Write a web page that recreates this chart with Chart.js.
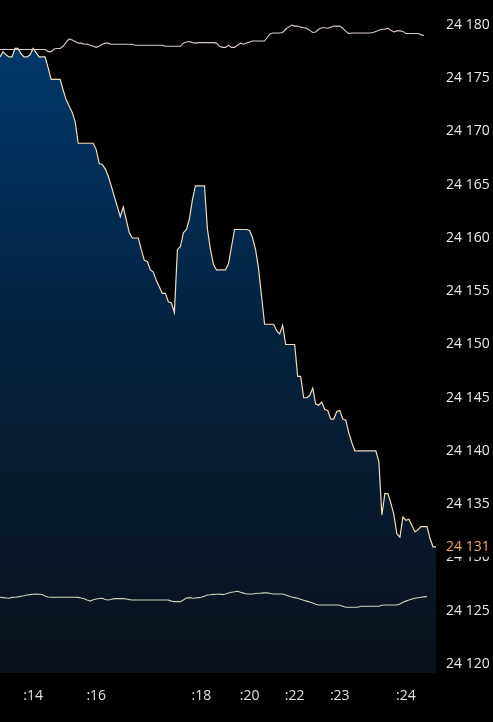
<!DOCTYPE html>
<html>
<head>
<meta charset="utf-8">
<script src="https://cdn.jsdelivr.net/npm/chart.js@4.4.1/dist/chart.umd.min.js"></script>
<style>
  html, body { margin: 0; padding: 0; background: #000; }
  #wrap { width: 493px; height: 722px; }
</style>
</head>
<body>
<div id="wrap"><canvas id="priceChart"></canvas></div>
<script>
// price ticks, one value per point
const price = [
  24177.0, 24177.5, 24177.2, 24177.0, 24177.0, 24177.8, 24177.8, 24177.3, 24177.0, 24177.0,
  24177.2, 24177.8, 24177.4, 24177.0, 24177.0, 24177.0, 24176.0, 24174.9, 24174.9, 24174.9,
  24174.9, 24173.9, 24173.0, 24172.4, 24171.8, 24170.9, 24168.9, 24168.9, 24168.9, 24168.9,
  24168.9, 24168.9, 24168.3, 24167.0, 24166.9, 24166.5, 24165.8, 24164.9, 24163.9, 24163.0,
  24162.0, 24162.9, 24161.7, 24160.5, 24160.0, 24160.0, 24160.0, 24158.9, 24157.9, 24157.8,
  24157.0, 24156.8, 24156.0, 24155.4, 24154.8, 24154.8, 24154.0, 24153.9, 24153.0, 24158.9,
  24159.2, 24160.5, 24160.8, 24161.8, 24163.6, 24164.9, 24164.9, 24164.9, 24164.9, 24160.8,
  24158.9, 24157.5, 24157.0, 24157.0, 24157.0, 24157.0, 24157.6, 24159.2, 24160.8, 24160.8,
  24160.8, 24160.8, 24160.8, 24160.7, 24160.0, 24158.9, 24157.1, 24154.5, 24151.9, 24151.9,
  24151.9, 24151.9, 24151.3, 24151.0, 24151.8, 24150.0, 24150.0, 24150.0, 24150.0, 24147.0,
  24147.0, 24145.0, 24145.0, 24145.2, 24145.9, 24144.4, 24144.3, 24144.6, 24143.9, 24143.8,
  24143.0, 24143.0, 24143.7, 24143.8, 24143.0, 24142.9, 24141.7, 24140.8, 24140.0, 24140.0,
  24140.0, 24140.0, 24140.0, 24140.0, 24140.0, 24140.0, 24139.0, 24134.0, 24136.0, 24136.0,
  24135.1, 24134.0, 24132.2, 24131.9, 24133.8, 24133.5, 24133.6, 24133.0, 24132.4, 24132.6,
  24132.9, 24132.9, 24132.9, 24131.8, 24131.0, 24131.0
];

const upper = [
  24177.7, 24177.7, 24177.7, 24177.7, 24177.7, 24177.7, 24177.7, 24177.7, 24177.7, 24177.7,
  24177.7, 24177.7, 24177.7, 24177.7, 24177.7, 24177.7, 24177.5, 24177.5, 24177.75, 24177.8,
  24177.8, 24178.0, 24178.4, 24178.7, 24178.6, 24178.45, 24178.3, 24178.3, 24178.2, 24178.2,
  24178.1, 24178.0, 24177.9, 24178.0, 24178.2, 24178.3, 24178.3, 24178.2, 24178.2, 24178.2,
  24178.2, 24178.2, 24178.2, 24178.2, 24178.2, 24178.1, 24178.1, 24178.1, 24178.1, 24178.1,
  24178.1, 24178.1, 24178.1, 24178.1, 24178.1, 24178.0, 24178.0, 24178.0, 24178.0, 24178.0,
  24178.0, 24178.3, 24178.4, 24178.45, 24178.35, 24178.3, 24178.35, 24178.35, 24178.35, 24178.35,
  24178.35, 24178.35, 24178.3, 24178.0, 24177.9, 24177.9, 24178.1, 24177.9, 24177.9, 24178.1,
  24178.3, 24178.2, 24178.3, 24178.4, 24178.5, 24178.5, 24178.5, 24178.5, 24178.5, 24178.9,
  24179.2, 24179.25, 24179.25, 24179.25, 24179.3, 24179.6, 24179.8, 24180.0, 24179.9, 24179.9,
  24179.8, 24179.75, 24179.7, 24179.5, 24179.3, 24179.35, 24179.6, 24179.75, 24179.75, 24179.7,
  24179.8, 24179.9, 24179.9, 24179.9, 24179.7, 24179.4, 24179.2, 24179.25, 24179.25, 24179.25,
  24179.25, 24179.25, 24179.25, 24179.25, 24179.3, 24179.4, 24179.5, 24179.6, 24179.6, 24179.7,
  24179.5, 24179.35, 24179.45, 24179.45, 24179.4, 24179.2, 24179.2, 24179.2, 24179.2, 24179.2,
  24179.1, 24179.0, null, null, null, null
];

const lower = [
  24126.26, 24126.23, 24126.2, 24126.17, 24126.25, 24126.27, 24126.3, 24126.35, 24126.4, 24126.48,
  24126.51, 24126.55, 24126.57, 24126.55, 24126.52, 24126.38, 24126.29, 24126.26, 24126.26, 24126.26,
  24126.26, 24126.26, 24126.26, 24126.26, 24126.26, 24126.26, 24126.25, 24126.2, 24126.12, 24126.0,
  24125.9, 24126.03, 24126.1, 24126.14, 24126.17, 24126.05, 24126.0, 24126.07, 24126.13, 24126.13,
  24126.13, 24126.13, 24126.1, 24126.04, 24126.0, 24126.0, 24126.0, 24126.0, 24126.0, 24126.0,
  24126.0, 24126.0, 24126.0, 24126.0, 24126.0, 24126.0, 24126.0, 24125.9, 24125.85, 24125.85,
  24125.85, 24126.0, 24126.2, 24126.23, 24126.17, 24126.2, 24126.23, 24126.26, 24126.35, 24126.48,
  24126.5, 24126.53, 24126.55, 24126.57, 24126.51, 24126.57, 24126.67, 24126.74, 24126.78, 24126.83,
  24126.73, 24126.65, 24126.57, 24126.57, 24126.57, 24126.61, 24126.64, 24126.65, 24126.67, 24126.67,
  24126.62, 24126.57, 24126.57, 24126.57, 24126.57, 24126.48, 24126.38, 24126.29, 24126.23, 24126.17,
  24126.07, 24125.98, 24125.9, 24125.82, 24125.73, 24125.61, 24125.54, 24125.54, 24125.54, 24125.54,
  24125.54, 24125.54, 24125.54, 24125.51, 24125.42, 24125.32, 24125.32, 24125.32, 24125.32, 24125.32,
  24125.42, 24125.42, 24125.42, 24125.42, 24125.42, 24125.42, 24125.42, 24125.51, 24125.54, 24125.54,
  24125.54, 24125.54, 24125.54, 24125.63, 24125.8, 24125.9, 24126.0, 24126.1, 24126.17, 24126.22,
  24126.27, 24126.3, 24126.32, null, null, null
];

const yTicks = [24120, 24125, 24130, 24135, 24140, 24145, 24150, 24155, 24160, 24165, 24170, 24175, 24180];
const timeTickIndex = [11, 32, 67, 83, 98, 113, 135];
const timeTickText = [':14', ':16', ':18', ':20', ':22', ':23', ':24'];
const yMin = 24119.15;
const yMax = 24182.35;

const FONT = '"Open Sans", "Noto Sans", sans-serif';
const fmt = v => String(v).replace(/\B(?=(\d{3})+(?!\d))/g, ' ');

const labels = price.map((_, i) => {
    const k = timeTickIndex.indexOf(i);
    return k >= 0 ? timeTickText[k] : '';
});

const blackBg = {
    id: 'blackBg',
    beforeDraw(chart) {
        const c = chart.ctx;
        c.save();
        c.fillStyle = '#000';
        c.fillRect(0, 0, chart.width, chart.height);
        c.restore();
    }
};

// orange tag with the last price, sitting over the axis labels
const lastPriceTag = {
    id: 'lastPriceTag',
    afterDraw(chart) {
        const area = chart.chartArea;
        const last = price[price.length - 1];
        const py = chart.scales.y.getPixelForValue(last);
        const c = chart.ctx;
        c.save();
        c.fillStyle = '#000';
        c.fillRect(area.right + 1, py - 9, chart.width - area.right, 19);
        c.font = '14px ' + FONT;
        c.fillStyle = '#f2aa62';
        c.textBaseline = 'middle';
        c.textAlign = 'left';
        c.fillText(fmt(last), area.right + 10, py);
        c.restore();
    }
};

const ctx = document.getElementById('priceChart').getContext('2d');
new Chart(ctx, {
    type: 'line',
    data: {
        labels: labels,
        datasets: [{
            label: 'upper',
            data: upper,
            borderColor: '#dccaca',
            borderWidth: 1.1,
            pointRadius: 0,
            tension: 0,
            fill: false,
            order: 1
        }, {
            label: 'lower',
            data: lower,
            borderColor: '#cdd4bb',
            borderWidth: 1.1,
            pointRadius: 0,
            tension: 0,
            fill: false,
            order: 1
        }, {
            label: 'price',
            data: price,
            borderColor: '#f2dcb8',
            borderWidth: 1.2,
            pointRadius: 0,
            tension: 0,
            fill: 'start',
            order: 2,
            backgroundColor: function(context) {
                const area = context.chart.chartArea;
                if (!area) return '#003366';
                const g = context.chart.ctx.createLinearGradient(0, area.top, 0, area.bottom);
                g.addColorStop(0, '#003a70');
                g.addColorStop(0.5, '#04223f');
                g.addColorStop(1, '#0a1119');
                return g;
            }
        }]
    },
    options: {
        responsive: true,
        maintainAspectRatio: false,
        animation: false,
        layout: { padding: 0 },
        plugins: {
            legend: { display: false },
            tooltip: { enabled: false }
        },
        scales: {
            x: {
                type: 'category',
                offset: false,
                grid: { display: false, drawTicks: false },
                border: { display: false },
                ticks: {
                    autoSkip: false,
                    maxRotation: 0,
                    minRotation: 0,
                    padding: 15,
                    color: '#e4e2dc',
                    font: { size: 14, family: FONT }
                },
                afterFit(scale) {
                    scale.height = 49;
                    scale.paddingLeft = 0;
                    scale.paddingRight = 0;
                }
            },
            y: {
                position: 'right',
                min: yMin,
                max: yMax,
                grid: { display: false, drawTicks: false },
                border: { display: false },
                afterBuildTicks(scale) {
                    scale.ticks = yTicks.map(v => ({ value: v }));
                },
                afterFit(scale) {
                    scale.width = 57;
                    scale.paddingTop = 0;
                    scale.paddingBottom = 0;
                },
                ticks: {
                    padding: 10,
                    color: '#e8e8e8',
                    font: { size: 14, family: FONT },
                    callback: v => fmt(v)
                }
            }
        }
    },
    plugins: [blackBg, lastPriceTag]
});
</script>
</body>
</html>
